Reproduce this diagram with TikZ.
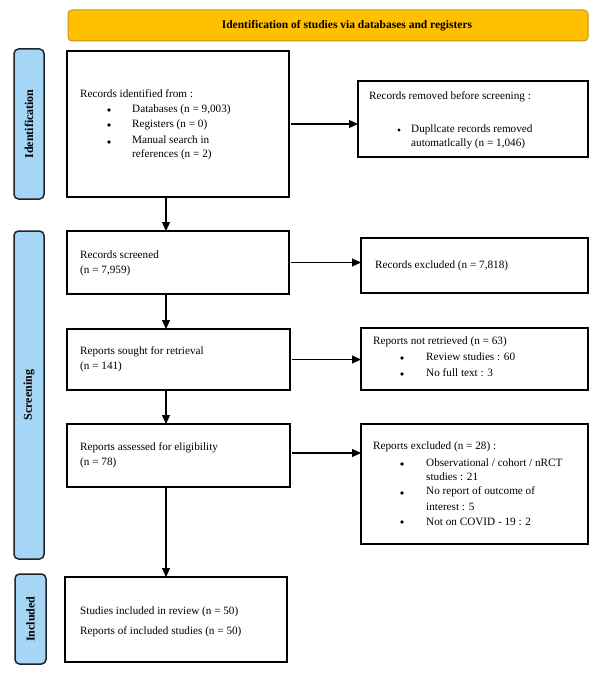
\documentclass[tikz,border=0pt]{standalone}
\usepackage{fontspec}
\setmainfont{Liberation Serif}
\usetikzlibrary{arrows.meta}
\definecolor{bannerfill}{RGB}{255,192,0}
\definecolor{bannerdraw}{RGB}{196,150,20}
\definecolor{sidefill}{RGB}{166,214,245}
\definecolor{sidedraw}{RGB}{30,36,44}
\tikzset{
  box/.style={draw=black, line width=1.3pt, fill=white, inner sep=0pt, outer sep=0pt},
  side/.style={draw=sidedraw, fill=sidefill, line width=1.5pt, rounded corners=4.5pt, inner sep=0pt},
  sidetext/.style={rotate=90, font=\bfseries\fontsize{12}{14}\selectfont, inner sep=0pt},
  txt/.style={anchor=west, inner sep=0pt, font=\fontsize{11.2}{13}\selectfont},
  bul/.style={circle, fill=black, inner sep=0pt, minimum size=3.8pt},
  arr/.style={line width=1.1pt, -{Triangle[length=9pt,width=8pt]}}
}
\begin{document}
\begin{tikzpicture}[x=1pt,y=-1pt]
\useasboundingbox (0,0) rectangle (600,677);
% banner
\node[draw=bannerdraw, fill=bannerfill, line width=1pt, rounded corners=4pt, minimum width=520pt, minimum height=31pt, inner sep=0pt] (banner) at (328,25.5) {};
\node[inner sep=0pt, font=\bfseries\fontsize{11.5}{13}\selectfont] (bannertext) at (347,26) {Identification of studies via databases and registers};
% side labels
\node[side, minimum width=30pt, minimum height=150pt] (sid) at (29,124) {};
\node[sidetext] (sidt) at (sid.center) {Identification};
\node[side, minimum width=30pt, minimum height=328pt] (ssc) at (29,395) {};
\node[sidetext] (ssct) at (ssc.center) {Screening};
\node[side, minimum width=31pt, minimum height=90pt] (sin) at (30.5,619) {};
\node[sidetext] (sint) at (sin.center) {Included};
% boxes
\node[box, minimum width=222pt, minimum height=146pt] (b1) at (178,124) {};
\node[box, minimum width=230pt, minimum height=76pt] (b2) at (473,119) {};
\node[box, minimum width=222pt, minimum height=63pt] (b3) at (178,262.5) {};
\node[box, minimum width=227pt, minimum height=55pt] (b4) at (474.5,265.5) {};
\node[box, minimum width=223pt, minimum height=61pt] (b5) at (178.5,359.5) {};
\node[box, minimum width=227pt, minimum height=62pt] (b6) at (474.5,359) {};
\node[box, minimum width=223pt, minimum height=63pt] (b7) at (178.5,455.5) {};
\node[box, minimum width=227pt, minimum height=120pt] (b8) at (474.5,484) {};
\node[box, minimum width=222pt, minimum height=85pt] (b9) at (176,619.5) {};
% box 1 text
\node[txt] (t1) at (80,94) {Records identified from :};
\node[bul] (t1b1) at (109,110) {};
\node[txt] (t1a) at (132,110) {Databases (n = 9,003)};
\node[bul] (t1b2) at (109,125) {};
\node[txt] (t1c) at (132,125) {Registers (n = 0)};
\node[bul] (t1b3) at (109,142) {};
\node[txt] (t1d) at (132,140) {Manual search in};
\node[txt] (t1e) at (132,155) {references (n = 2)};
% box 2 text
\node[txt] (t2) at (369,97) {Records removed before screening :};
\node[bul, minimum size=3.3pt] (t2b) at (399,130) {};
\node[txt] (t2a) at (411,130) {Dupllcate records removed};
\node[txt] (t2c) at (411,144) {automatlcally (n = 1,046)};
% box 3, 4
\node[txt] (t3a) at (80,255) {Records screened};
\node[txt] (t3b) at (80,271) {(n = 7,959)};
\node[txt] (t4) at (375,266) {Records excluded (n = 7,818)};
% box 5, 6
\node[txt] (t5a) at (80,352) {Reports sought for retrieval};
\node[txt] (t5b) at (80,367) {(n = 141)};
\node[txt] (t6) at (373,342) {Reports not retrieved (n = 63)};
\node[bul] (t6b1) at (402,358) {};
\node[txt] (t6a) at (426,357) {Review studies : 60};
\node[bul] (t6b2) at (402,374) {};
\node[txt] (t6c) at (426,373) {No full text : 3};
% box 7, 8
\node[txt] (t7a) at (80,448) {Reports assessed for eligibility};
\node[txt] (t7b) at (80,463) {(n = 78)};
\node[txt] (t8) at (373,447) {Reports excluded (n = 28) :};
\node[bul] (t8b1) at (402,464) {};
\node[txt] (t8a) at (426,463) {Observational / cohort / nRCT};
\node[txt] (t8c) at (426,477) {studies : 21};
\node[bul] (t8b2) at (402,493) {};
\node[txt] (t8d) at (426,492) {No report of outcome of};
\node[txt] (t8e) at (426,507) {interest : 5};
\node[bul] (t8b3) at (402,522) {};
\node[txt] (t8f) at (426,522) {Not on COVID - 19 : 2};
% box 9
\node[txt] (t9a) at (80,612) {Studies included in review (n = 50)};
\node[txt] (t9b) at (80,632) {Reports of included studies (n = 50)};
% arrows
\draw[arr] ([xshift=-12pt]b1.south) -- ([xshift=-12pt]b3.north);
\draw[arr] ([xshift=-12pt]b3.south) -- ([xshift=-12pt]b3.south |- b5.north);
\draw[arr] ([xshift=-12.5pt]b5.south) -- ([xshift=-12.5pt]b5.south |- b7.north);
\draw[arr] ([xshift=-12.5pt]b7.south) -- ([xshift=-12.5pt]b7.south |- b9.north);
\draw[arr] ([xshift=2pt]b1.east) -- (b1.east -| b2.west);
\draw[arr] ([xshift=2pt]b3.east) -- (b3.east -| b4.west);
\draw[arr] ([xshift=2pt]b5.east) -- (b5.east -| b6.west);
\draw[arr] ([xshift=2pt,yshift=2.5pt]b7.east) -- ([yshift=2.5pt]b7.east -| b8.west);
\end{tikzpicture}
\end{document}
